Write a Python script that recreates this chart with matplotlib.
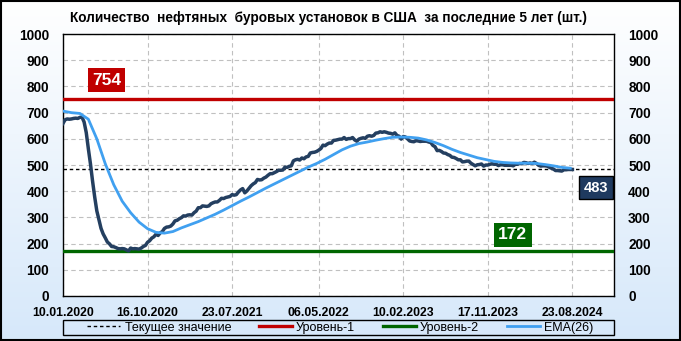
import numpy as np
import pandas as pd
import matplotlib
matplotlib.use("Agg")
import matplotlib.pyplot as plt
from matplotlib.patches import Rectangle

plt.rcParams["font.family"] = ["Liberation Sans", "DejaVu Sans"]

# weekly rig count, 10.01.2020 - 23.08.2024
rigs_2020 = [659, 673, 676, 675, 676, 678, 679, 678, 682, 683, 664, 624, 562,
             504, 438, 378, 325, 292, 258, 237, 222, 206, 199, 189, 188, 185,
             181, 180, 181, 180, 176, 172, 183, 180, 181, 180, 179, 183, 189,
             193, 205, 211, 221, 226, 236, 231, 241, 246, 258, 263, 264, 267]
rigs_2021 = [275, 287, 289, 295, 299, 306, 305, 309, 310, 309, 318, 324, 337,
             337, 344, 343, 342, 344, 352, 356, 359, 359, 365, 373, 372, 376,
             378, 380, 387, 385, 387, 397, 405, 410, 394, 401, 411, 421, 428,
             433, 445, 443, 444, 450, 454, 461, 467, 467, 471, 475, 480, 480]
rigs_2022 = [481, 492, 491, 495, 497, 516, 520, 522, 519, 527, 524, 531, 533,
             546, 548, 549, 552, 557, 563, 576, 574, 580, 584, 584, 594, 595,
             597, 599, 599, 605, 598, 601, 601, 605, 596, 591, 599, 602, 604,
             602, 610, 612, 610, 613, 622, 623, 627, 625, 627, 625, 622, 621]
rigs_2023 = [618, 623, 613, 610, 599, 609, 607, 600, 592, 590, 589, 593, 592,
             590, 591, 591, 591, 588, 586, 575, 570, 555, 556, 552, 546, 545,
             540, 537, 530, 529, 525, 520, 520, 512, 513, 515, 515, 507, 502,
             497, 501, 502, 504, 496, 500, 500, 503, 505, 503, 503, 498, 501]
rigs_2024 = [501, 499, 499, 499, 499, 497, 503, 503, 506, 505, 510, 509, 506,
             508, 506, 511, 506, 499, 496, 497, 497, 496, 492, 488, 485, 479,
             479, 478, 477, 482, 482, 483, 483, 483]

# EMA(26) read every 4 weeks
ema_vals = [706, 700, 697, 675, 600, 505, 425, 362, 318, 282, 257, 243, 240,
            246, 260, 272, 284, 298, 312, 328, 345, 362, 378, 395, 412, 428,
            444, 460, 476, 492, 506, 522, 540, 558, 572, 582, 588, 595, 601,
            606, 607, 606, 603, 596, 586, 574, 560, 548, 538, 528, 521, 514,
            510, 508, 507, 507, 506, 502, 497, 491, 488]

level_1 = 754
level_2 = 172
current = 483

tick_labels = ["10.01.2020", "16.10.2020", "23.07.2021", "06.05.2022",
               "10.02.2023", "17.11.2023", "23.08.2024"]

rigs = rigs_2020 + rigs_2021 + rigs_2022 + rigs_2023 + rigs_2024
start = pd.Timestamp("2020-01-10")
dates = pd.date_range(start, periods=len(rigs), freq="7D")
ema_dates = pd.date_range(start, periods=len(ema_vals), freq="28D")
tick_dates = pd.to_datetime(tick_labels, format="%d.%m.%Y")

fig = plt.figure(figsize=(6.81, 3.41), dpi=100)

# background gradient + outer frame
bg = fig.add_axes([0, 0, 1, 1], zorder=-10)
grad = np.linspace(0, 1, 256).reshape(-1, 1)
c_top = np.array([1.0, 1.0, 1.0])
c_bot = np.array([0.84, 0.91, 0.98])
img = c_top + (c_bot - c_top) * grad[:, :, None]
bg.imshow(img, aspect="auto", extent=[0, 1, 0, 1], origin="upper")
bg.add_patch(Rectangle((0.001, 0.002), 0.997, 0.995, fill=False,
                       edgecolor="black", linewidth=1.5))
bg.set_xlim(0, 1)
bg.set_ylim(0, 1)
bg.set_axis_off()

ax = fig.add_axes([0.0925, 0.132, 0.8095, 0.768])
ax.set_facecolor("white")

ax.plot(dates, rigs, color="#243f60", linewidth=2.5, zorder=4)
ema_line, = ax.plot(ema_dates, ema_vals, color="#40a0f0", linewidth=2.0,
                    zorder=5, label="EMA(26)")
cur_line = ax.axhline(current, color="black", linestyle=(0, (2.5, 2)),
                      linewidth=1.0, zorder=3, label="Текущее значение")
l1_line = ax.axhline(level_1, color="#c00000", linewidth=2.4, zorder=3,
                     label="Уровень-1")
l2_line = ax.axhline(level_2, color="#006600", linewidth=2.4, zorder=3,
                     label="Уровень-2")

ax.set_ylim(0, 1000)
ax.set_yticks(np.arange(0, 1001, 100))
ax.set_xlim(start, start + pd.Timedelta(weeks=260.8))
ax.set_xticks(tick_dates)
ax.set_xticklabels(tick_labels, fontsize=8.8, fontweight="bold")
ax.tick_params(axis="x", length=0, pad=8)
ax.tick_params(axis="y", length=0, pad=10, labelsize=9.8,
               labelright=True, right=False)
for t in ax.yaxis.get_major_ticks():
    t.label1.set_fontweight("bold")
    t.label2.set_fontweight("bold")

ax.grid(True, color="#c0c0c0", linestyle=(0, (4, 3)), linewidth=0.8)
ax.set_axisbelow(True)
for s in ax.spines.values():
    s.set_color("black")
    s.set_linewidth(1.0)

ax.set_title("Количество  нефтяных  буровых установок в США  за последние 5 лет (шт.)",
             fontsize=9.8, fontweight="bold", x=0.482, pad=9)

box = dict(boxstyle="square,pad=0.25", linewidth=0)
ax.text(0.079, 0.824, str(level_1), transform=ax.transAxes, ha="center",
        va="center", color="white", fontsize=12.5, fontweight="bold",
        bbox=dict(box, facecolor="#c00000"), zorder=6)
ax.text(0.816, 0.233, str(level_2), transform=ax.transAxes, ha="center",
        va="center", color="white", fontsize=12.5, fontweight="bold",
        bbox=dict(box, facecolor="#006600"), zorder=6)
ax.text(0.967, 0.414, str(current), transform=ax.transAxes, ha="center",
        va="center", color="white", fontsize=10.5, fontweight="bold",
        bbox=dict(boxstyle="square,pad=0.3", facecolor="#1f3a5f",
                  edgecolor="black", linewidth=1), zorder=6)

# legend frame spans the plot width, items centred inside
ax.add_patch(Rectangle((0.0, -0.150), 1.0, 0.058, transform=ax.transAxes,
                       fill=False, edgecolor="black", linewidth=1.0,
                       clip_on=False))
leg = ax.legend(handles=[cur_line, l1_line, l2_line, ema_line],
                loc="center", bbox_to_anchor=(0.503, -0.121), ncol=4,
                fontsize=9, frameon=False, handlelength=2.65,
                handletextpad=0.35, columnspacing=2.2, borderpad=0,
                borderaxespad=0)

fig.savefig("out.png", dpi=100)
